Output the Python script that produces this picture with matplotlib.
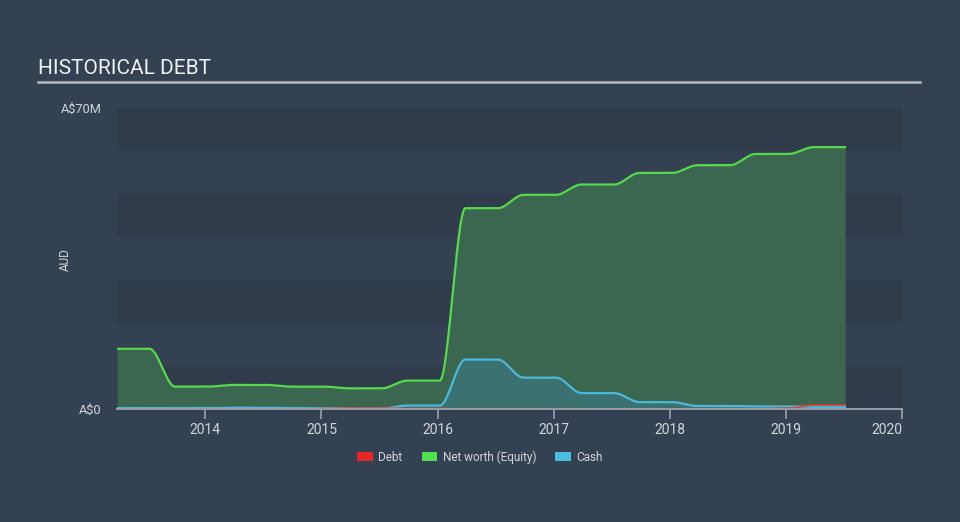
import numpy as np
import matplotlib
matplotlib.use("Agg")
import matplotlib.pyplot as plt
from matplotlib.patches import Patch

plt.rcParams['font.family'] = ['Roboto', 'DejaVu Sans']

# report dates (decimal years) and values in A$ millions
dates = [2013.24, 2013.52, 2013.74, 2014.02, 2014.24, 2014.52, 2014.74, 2015.02,
         2015.24, 2015.52, 2015.74, 2016.02, 2016.24, 2016.52, 2016.74, 2017.02,
         2017.24, 2017.52, 2017.74, 2018.02, 2018.24, 2018.52, 2018.74, 2019.02,
         2019.24, 2019.51]
equity = [14.0, 14.0, 5.2, 5.2, 5.6, 5.6, 5.2, 5.2, 4.8, 4.8, 6.6, 6.6, 46.7, 46.7,
          49.8, 49.8, 52.2, 52.2, 54.9, 54.9, 56.7, 56.7, 59.3, 59.3, 60.9, 60.9]
cash = [0.2, 0.2, 0.2, 0.2, 0.3, 0.3, 0.2, 0.2, 0.1, 0.1, 0.8, 0.8, 11.5, 11.5,
        7.3, 7.3, 3.7, 3.7, 1.6, 1.6, 0.7, 0.7, 0.6, 0.6, 0.5, 0.5]
debt = [0.0, 0.0, 0.0, 0.0, 0.0, 0.0, 0.0, 0.1, 0.2, 0.2, 0.1, 0.1, 0.0, 0.0,
        0.0, 0.0, 0.0, 0.0, 0.0, 0.0, 0.0, 0.0, 0.0, 0.2, 0.9, 0.9]

year_ticks = [2014, 2015, 2016, 2017, 2018, 2019, 2020]
legend_labels = ['Debt', 'Net worth (Equity)', 'Cash']

BG = '#344152'
AXIS = '#9aa3ad'
TEXT = '#d2d6db'


def smooth(x, y, n=30):
    # eased segments between the reported points (flat tangents at each point)
    xs, ys = [], []
    for i in range(len(x) - 1):
        t = np.linspace(0, 1, n, endpoint=False)
        s = t * t * (3 - 2 * t)
        xs.append(x[i] + (x[i + 1] - x[i]) * t)
        ys.append(y[i] + (y[i + 1] - y[i]) * s)
    xs.append([x[-1]])
    ys.append([y[-1]])
    return np.concatenate(xs), np.concatenate(ys)


fig = plt.figure(figsize=(9.6, 5.22), dpi=100, facecolor=BG)
ax = fig.add_axes([117 / 960, 1 - 409 / 522, 785 / 960, 301 / 522])
ax.set_facecolor(BG)
ax.set_xlim(2013.24, 2020.0)
ax.set_ylim(0, 70)

# alternating background bands
for k in range(7):
    col = '#303c4c' if k % 2 == 0 else '#344152'
    ax.axhspan(k * 10, (k + 1) * 10, color=col, lw=0, zorder=0)

xe, ye = smooth(dates, equity)
xc, yc = smooth(dates, cash)
xd, yd = smooth(dates, debt)

ax.fill_between(xe, 0, ye, color='#3c6a50', alpha=0.92, lw=0, zorder=1)
ax.plot(xe, ye, color='#57d94c', lw=1.6, zorder=4)
ax.fill_between(xc, 0, yc, color='#3b7478', alpha=0.85, lw=0, zorder=2)
ax.plot(xc, yc, color='#4bb9dc', lw=1.6, zorder=5)
ax.fill_between(xd, 0, yd, color='#a0443c', alpha=0.6, lw=0, zorder=3)
ax.plot(xd, yd, color='#e0413a', lw=1.2, zorder=6)

for side in ['top', 'right', 'left']:
    ax.spines[side].set_visible(False)
ax.spines['bottom'].set_color(AXIS)
ax.spines['bottom'].set_linewidth(1.3)
ax.spines['bottom'].set_zorder(7)

ax.set_xticks(year_ticks)
ax.set_xticklabels([str(y) for y in year_ticks])
ax.tick_params(axis='x', colors=AXIS, length=7, width=1.2, pad=3,
               labelcolor=TEXT, labelsize=10)
ax.get_xticklabels()[-1].set_ha('right')

ax.set_yticks([0, 70])
ax.set_yticklabels(['A\\$0', 'A\\$70M'])
ax.tick_params(axis='y', length=0, pad=11, labelcolor=TEXT, labelsize=9.2)

fig.text(65 / 960, 1 - 260 / 522, 'AUD', rotation=90, color=TEXT,
         fontsize=8.5, ha='center', va='center')

fig.text(38 / 960, 1 - 69 / 522, 'HISTORICAL DEBT', color='#eef0f2',
         fontsize=15, ha='left', va='center')
fig.add_artist(plt.Line2D([38 / 960, 920 / 960], [1 - 82 / 522, 1 - 82 / 522],
                          color='#b4bac1', lw=1.8))

handles = [Patch(facecolor='#e8262a', edgecolor='none'),
           Patch(facecolor='#4fe04f', edgecolor='none'),
           Patch(facecolor='#4bbde0', edgecolor='none')]
leg = fig.legend(handles, legend_labels, loc='center', ncol=3,
                 bbox_to_anchor=(0.5, 1 - 457 / 522), frameon=False,
                 fontsize=8.5, labelcolor=TEXT, handlelength=1.35,
                 handleheight=0.85, handletextpad=0.45, columnspacing=1.6)

fig.savefig('out.png', dpi=100, facecolor=BG)
